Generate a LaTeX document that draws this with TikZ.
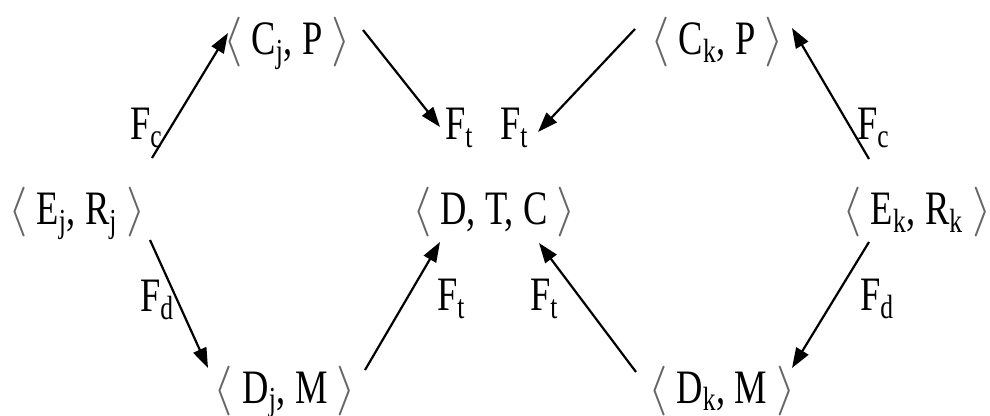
\documentclass[tikz,border=0pt]{standalone}
\usepackage{fontspec}
\setmainfont[FakeStretch=0.76]{Liberation Serif}
\usetikzlibrary{calc,arrows.meta}
\newcommand{\lang}{\textcolor{black!60}{$\langle$}}
\newcommand{\rang}{\textcolor{black!60}{$\rangle$}}
\begin{document}
\begin{tikzpicture}[x=0.5pt,y=-0.5pt,
  every node/.style={font=\fontsize{24}{28}\selectfont,inner sep=0pt,outer sep=0pt},
  tuple/.style={anchor=base},
  lab/.style={anchor=base west},
  arr/.style={line width=1.1pt,-{Triangle[length=10pt,width=7pt]}}]
\useasboundingbox (0,0) rectangle (990,416);
% tuples
\node[tuple] (Cj)  at (287,55)  {\lang\ C\textsubscript{j}, P \rang};
\node[tuple] (Ej)  at (77,225)  {\lang\ E\textsubscript{j}, R\textsubscript{j} \rang};
\node[tuple] (Dj)  at (285,403) {\lang\ D\textsubscript{j}, M \rang};
\node[tuple] (DTC) at (494,225) {\lang\ D, T, C \rang};
\node[tuple] (Ck)  at (717,55)  {\lang\ C\textsubscript{k}, P \rang};
\node[tuple] (Ek)  at (917,225) {\lang\ E\textsubscript{k}, R\textsubscript{k} \rang};
\node[tuple] (Dk)  at (722,403) {\lang\ D\textsubscript{k}, M \rang};
% labels
\node[lab] (Fc1) at (130,140) {F\textsubscript{c}};
\node[lab] (Ft1) at (445,140) {F\textsubscript{t}};
\node[lab] (Ft2) at (500,140) {F\textsubscript{t}};
\node[lab] (Fc2) at (857,140) {F\textsubscript{c}};
\node[lab] (Fd1) at (140,312) {F\textsubscript{d}};
\node[lab] (Ft3) at (437,311) {F\textsubscript{t}};
\node[lab] (Ft4) at (530,311) {F\textsubscript{t}};
\node[lab] (Fd2) at (860,311) {F\textsubscript{d}};
% connectors
\draw[arr] ($(Ej.base)+(75,-67)$) -- ($(Cj.base)+(-59,-22)$);
\draw[arr] ($(Cj.base)+(76,-25)$) -- ($(Ft1.base west)+(-5,-13)$);
\draw[arr] ($(Ck.base)+(-82,-26)$) -- ($(Ft2.base west)+(38,-8)$);
\draw[arr] ($(Ek.base)+(-48,-66)$) -- ($(Ck.base)+(75,-27)$);
\draw[arr] ($(Ej.base)+(73,15)$) -- ($(Dj.base)+(-77,-35)$);
\draw[arr] ($(Dj.base)+(80,-33)$) -- ($(DTC.base)+(-54,17)$);
\draw[arr] ($(Dk.base)+(-86,-31)$) -- ($(DTC.base)+(45,18)$);
\draw[arr] ($(Ek.base)+(-48,17)$) -- ($(Dk.base)+(70,-35)$);
\end{tikzpicture}
\end{document}
